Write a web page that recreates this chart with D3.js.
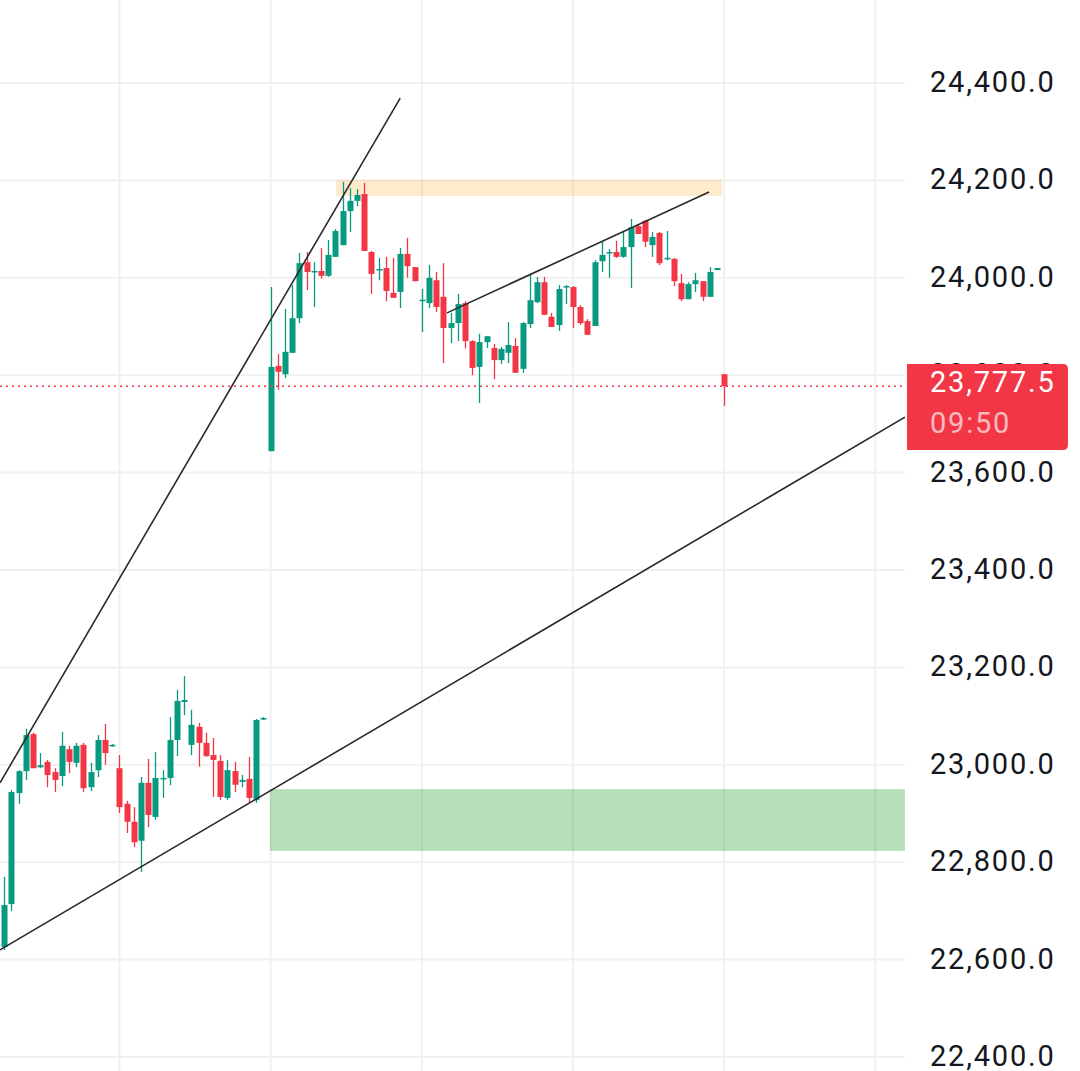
<!DOCTYPE html>
<html>
<head>
<meta charset="utf-8">
<script src="https://cdn.jsdelivr.net/npm/d3@7"></script>
<style>
html,body{margin:0;padding:0;background:#fff;}
svg{display:block;}
</style>
</head>
<body>
<svg id="chart" width="1080" height="1071"></svg>
<script>
// ---- data (bar index, OHLC) ----
const opens  = [22626,22714,22942,22987,23063,22995,23006,22985,22977,23032,23004,23041,22954,22989,23051,23039,22993,22920,22883,22844,22963,22893,22971,22973,23051,23129,23041,23078,23045,23020,23008,22932,22987,22965,22971,22928,23094,
23644,23819,23802,23846,23917,24032,24012,24014,24004,24043,24067,24137,24158,24172,24053,24016,24020,23969,23971,24049,24022,23952,23948,23995,23961,23897,23907,23948,23870,23817,23868,23856,23831,23846,23860,23813,23905,23950,23991,23920,23903,23981,23981,23940,23911,23901,24034,24051,24053,24043,24063,24106,24117,24067,24092,24038,24039,23989,23956,23987,23993,23961,24016,23802];
const highs  = [22770,22948,22989,23074,23066,23024,23010,22993,23067,23039,23045,23045,23004,23061,23084,23043,23020,22926,22913,22975,23012,23026,22989,23098,23154,23182,23113,23086,23066,23055,23020,23010,23006,22979,23016,23094,23098,
23981,23844,23936,23985,24051,24053,24032,24061,24078,24100,24197,24184,24182,24195,24055,24041,24043,24041,24061,24082,24022,23977,24026,24012,24030,23928,23967,23952,23872,23885,23880,23864,23858,23909,23876,23909,24008,24002,24002,23928,23985,23985,23983,23944,23915,24036,24074,24059,24076,24094,24121,24110,24119,24094,24094,24096,24041,24008,23991,24010,23993,24022,24020,23802];
const lows   = [22620,22700,22920,22969,22993,22993,22954,22944,22956,22983,22995,22944,22946,22975,23000,23037,22901,22860,22831,22780,22872,22887,22932,22958,23018,23102,23020,22996,23016,22934,22928,22928,22944,22954,22922,22922,23092,
23644,23770,23794,23846,23907,23975,23940,23998,24002,24043,24067,24094,24147,24055,23967,23995,23952,23959,23938,24000,23993,23889,23938,23930,23825,23866,23870,23855,23800,23743,23856,23792,23823,23825,23805,23805,23897,23948,23924,23899,23891,23946,23897,23903,23883,23901,24012,24000,24041,24041,23979,24090,24063,24043,24026,24036,23983,23952,23956,23971,23952,23961,24016,23737];
const closes = [22712,22944,22987,23061,22993,22999,22979,22969,23039,23006,23039,22952,22985,23051,23024,23041,22913,22883,22841,22963,22897,22973,22973,23051,23131,23133,23082,23045,23018,23010,22934,22989,22959,22969,22932,23092,23096,
23817,23807,23848,23917,24030,24012,24014,24004,24047,24096,24137,24158,24170,24055,24008,24018,23973,23959,24049,24024,23993,23955,24000,23940,23897,23907,23946,23870,23815,23868,23880,23831,23854,23862,23805,23907,23954,23991,23924,23899,23977,23983,23940,23907,23883,24032,24047,24053,24043,24063,24104,24090,24074,24084,24030,24041,23993,23956,23987,23995,23961,24012,24020,23777.5];

// axis ticks
const priceTicks = [22400,22600,22800,23000,23200,23400,23600,23800,24000,24200,24400];
const timeGridBars = [16,37,58,79,100,121];

// drawings: [barIndex, price]
const trendLines = [
  [[-0.58, 22963],[55.0, 24369]],
  [[-0.58, 22620],[125.1, 23714]],
  [[61.5, 23928],[97.9, 24176]]
];
const supplyZone = {x0: 46.1, x1: 99.7, p0: 24201, p1: 24168};
const demandZone = {x0: 36.9, x1: 125.1, p0: 22950, p1: 22823};
const lastPrice = 23777.5;
const lastPriceText = "23,777.5";
const countdownText = "09:50";

// ---- chart ----
const W = 1080, H = 1071, plotW = 905;
const svg = d3.select("#chart");
svg.append("rect").attr("width", W).attr("height", H).attr("fill", "#ffffff");

const x = d3.scaleLinear().domain([-0.5833, 125.11]).range([0, plotW]);
const y = d3.scaleLinear().domain([22400, 24400]).range([1057, 83]);

const UP = "#089981", DOWN = "#F23645";
const bars = d3.range(opens.length).map(i => ({i, o: opens[i], h: highs[i], l: lows[i], c: closes[i]}));

const defs = svg.append("defs");
defs.append("clipPath").attr("id", "plotClip").append("rect")
  .attr("x", 0).attr("y", 0).attr("width", plotW).attr("height", H);

const plot = svg.append("g").attr("clip-path", "url(#plotClip)");

// grid
plot.append("g").selectAll("line").data(priceTicks).join("line")
  .attr("x1", 0).attr("x2", plotW)
  .attr("y1", d => y(d)).attr("y2", d => y(d))
  .attr("stroke", "#F0F0F0").attr("stroke-width", 2);
plot.append("g").selectAll("line").data(timeGridBars).join("line")
  .attr("x1", d => x(d)).attr("x2", d => x(d))
  .attr("y1", 0).attr("y2", H)
  .attr("stroke", "#F0F0F0").attr("stroke-width", 2);

// zones
plot.append("rect")
  .attr("x", x(supplyZone.x0)).attr("width", x(supplyZone.x1) - x(supplyZone.x0))
  .attr("y", y(supplyZone.p0)).attr("height", y(supplyZone.p1) - y(supplyZone.p0))
  .attr("fill", "rgba(255,152,0,0.2)");
plot.append("rect")
  .attr("x", x(demandZone.x0)).attr("width", x(demandZone.x1) - x(demandZone.x0))
  .attr("y", y(demandZone.p0)).attr("height", y(demandZone.p1) - y(demandZone.p0))
  .attr("fill", "rgba(76,175,80,0.4)");

// candles
const bw = 6;
const cg = plot.append("g");
cg.selectAll("line").data(bars).join("line")
  .attr("x1", d => Math.round(x(d.i)) + 0.5).attr("x2", d => Math.round(x(d.i)) + 0.5)
  .attr("y1", d => y(d.h)).attr("y2", d => y(d.l))
  .attr("stroke", d => d.c >= d.o ? UP : DOWN).attr("stroke-width", 1.3);
cg.selectAll("rect").data(bars).join("rect")
  .attr("x", d => Math.round(x(d.i)) + 0.5 - bw / 2)
  .attr("width", bw)
  .attr("y", d => y(Math.max(d.o, d.c)))
  .attr("height", d => Math.max(1.5, Math.abs(y(d.o) - y(d.c))))
  .attr("fill", d => d.c >= d.o ? UP : DOWN);

// trend lines
plot.append("g").selectAll("line").data(trendLines).join("line")
  .attr("x1", d => x(d[0][0])).attr("y1", d => y(d[0][1]))
  .attr("x2", d => x(d[1][0])).attr("y2", d => y(d[1][1]))
  .attr("stroke", "#2A2A2A").attr("stroke-width", 1.6);

// last price dotted line
plot.append("line")
  .attr("x1", 0).attr("x2", plotW)
  .attr("y1", y(lastPrice)).attr("y2", y(lastPrice))
  .attr("stroke", DOWN).attr("stroke-width", 1.5).attr("stroke-dasharray", "2,4");

// price axis labels
const FONT = "Roboto, 'Noto Sans', sans-serif";
const fmt = d3.format(",.1f");
svg.append("g").selectAll("text").data(priceTicks).join("text")
  .attr("x", 930).attr("y", d => y(d) + 9)
  .attr("font-family", FONT)
  .attr("font-size", 29)
  .attr("letter-spacing", 1.8)
  .attr("fill", "#131722")
  .text(d => fmt(d));

// last price label
const ly0 = 364, ly1 = 450, lx0 = 907, lx1 = 1068, r = 5;
svg.append("path")
  .attr("d", `M${lx0},${ly0} H${lx1 - r} Q${lx1},${ly0} ${lx1},${ly0 + r} V${ly1 - r} Q${lx1},${ly1} ${lx1 - r},${ly1} H${lx0} Z`)
  .attr("fill", DOWN);
svg.append("text").attr("x", 930).attr("y", y(lastPrice) + 6)
  .attr("font-family", FONT).attr("font-size", 29).attr("letter-spacing", 1.8)
  .attr("fill", "#ffffff").text(lastPriceText);
svg.append("text").attr("x", 930).attr("y", 433)
  .attr("font-family", FONT).attr("font-size", 29).attr("letter-spacing", 1.8)
  .attr("fill", "#ffffff").attr("fill-opacity", 0.68).text(countdownText);
</script>
</body>
</html>
